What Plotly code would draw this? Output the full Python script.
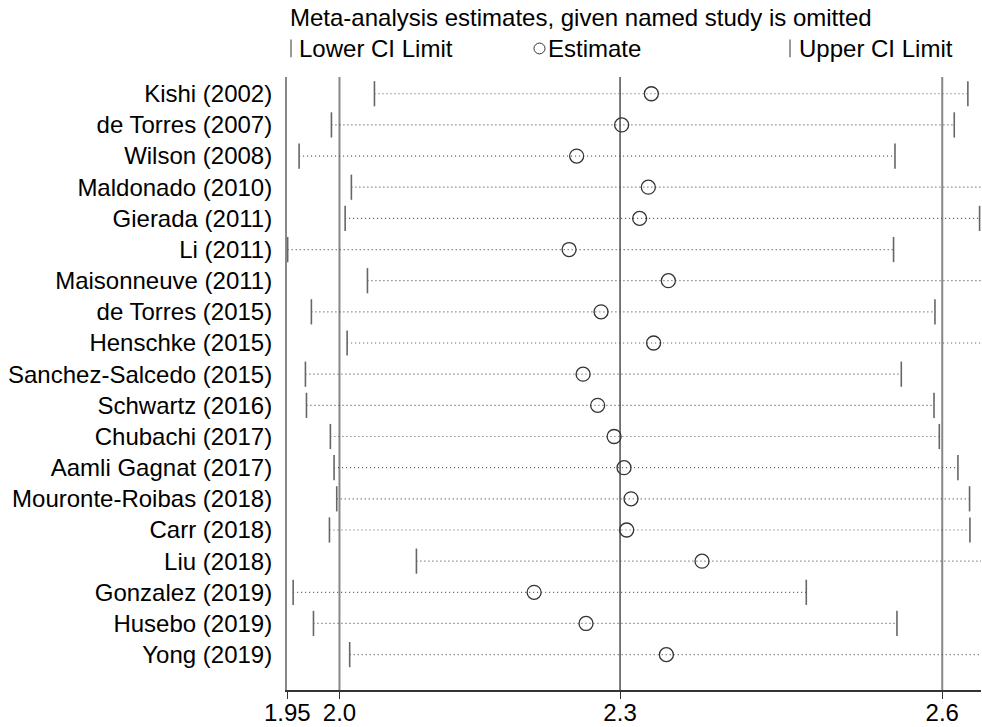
import plotly.graph_objects as go

studies = ["Kishi (2002)", "de Torres (2007)", "Wilson (2008)", "Maldonado (2010)",
           "Gierada (2011)", "Li (2011)", "Maisonneuve (2011)", "de Torres (2015)",
           "Henschke (2015)", "Sanchez-Salcedo (2015)", "Schwartz (2016)",
           "Chubachi (2017)", "Aamli Gagnat (2017)", "Mouronte-Roibas (2018)",
           "Carr (2018)", "Liu (2018)", "Gonzalez (2019)", "Husebo (2019)", "Yong (2019)"]
lower = [2.0402, 1.9947, 1.9605, 2.0158, 2.0092, 1.9484, 2.0328, 1.9735, 2.0113, 1.9672,
         1.9683, 1.9936, 1.9975, 2.0003, 1.9926, 2.0846, 1.9542, 1.9757, 2.0140]
estimate = [2.3331, 2.3017, 2.2541, 2.3299, 2.3207, 2.2461, 2.3511, 2.2799, 2.3355, 2.2609,
            2.2763, 2.2937, 2.3042, 2.3116, 2.3070, 2.3867, 2.2091, 2.2640, 2.3490]
upper = [2.6679, 2.6535, 2.5908, 2.693, 2.6803, 2.5893, 2.719, 2.6331, 2.712, 2.5975,
         2.6321, 2.6377, 2.6574, 2.6697, 2.6701, 2.733, 2.4970, 2.5929, 2.740]
overall = [2.0032, 2.3000, 2.6408]          # overall lower CI, estimate, upper CI
tick_vals = [1.9480, 2.0032, 2.3000, 2.6408]
tick_text = ["1.95", "2.0", "2.3", "2.6"]

W, H = 982, 727
L, R, T, B = 287, 1, 77, 27
FONT = "Liberation Sans, Arial, sans-serif"
FS = 24
rows = list(range(1, len(studies) + 1))

fig = go.Figure()
lx, ly = [], []
for r, lo, hi in zip(rows, lower, upper):
    lx += [lo, hi, None]
    ly += [r, r, None]
fig.add_trace(go.Scatter(x=lx, y=ly, mode="lines",
                         line=dict(color="#555555", width=1.2, dash="1px,3px"),
                         hoverinfo="skip", showlegend=False))
fig.add_trace(go.Scatter(x=lower + upper, y=rows + rows, mode="markers",
                         marker=dict(symbol="line-ns", size=18,
                                     line=dict(color="#666666", width=1.6)),
                         showlegend=False))
fig.add_trace(go.Scatter(x=estimate, y=rows, mode="markers",
                         marker=dict(symbol="circle-open", size=14, color="#333333",
                                     line=dict(color="#333333", width=1.3)),
                         showlegend=False))

pw, ph = W - L - R, H - T - B
def px(x):
    return (x - L) / pw
def py(y):
    return (H - B - y) / ph

for v, c, w in zip(overall, ["#888888", "#333333", "#888888"], [2, 1.3, 2]):
    fig.add_shape(type="line", xref="x", yref="paper", x0=v, x1=v, y0=0, y1=1,
                  line=dict(color=c, width=w), layer="below")

fig.add_annotation(xref="paper", yref="paper", x=px(288), y=py(17), xanchor="left",
                   yanchor="middle", showarrow=False,
                   text="Meta-analysis estimates, given named study is omitted",
                   font=dict(family=FONT, size=FS, color="#000"))
for xt, txt in [(297, "Lower CI Limit"), (546, "Estimate"), (797, "Upper CI Limit")]:
    fig.add_annotation(xref="paper", yref="paper", x=px(xt), y=py(48), xanchor="left",
                       yanchor="middle", showarrow=False, text=txt,
                       font=dict(family=FONT, size=FS, color="#000"))
for xb in [291, 790]:
    fig.add_shape(type="line", xref="paper", yref="paper", x0=px(xb), x1=px(xb),
                  y0=py(39), y1=py(57), line=dict(color="#777777", width=1.5))
fig.add_shape(type="circle", xref="paper", yref="paper", x0=px(534), x1=px(545),
              y0=py(42.5), y1=py(53.5), line=dict(color="#333333", width=1))

fig.update_layout(
    width=W, height=H, margin=dict(l=L, r=R, t=T, b=B),
    plot_bgcolor="white", paper_bgcolor="white",
    font=dict(family=FONT, size=FS, color="#000"),
    xaxis=dict(range=[1.9477, 2.6818], tickvals=tick_vals, ticktext=tick_text,
               showgrid=False, zeroline=False, showline=True, linecolor="#333333",
               linewidth=1.5, ticks="outside", ticklen=7, tickcolor="#333333",
               tickwidth=1.3, tickfont=dict(size=FS), ticklabelstandoff=-7),
    yaxis=dict(range=[20.135, 0.4632], tickvals=rows, ticktext=studies,
               showgrid=False, zeroline=False, showline=True, linecolor="#888888",
               linewidth=2, ticks="", tickfont=dict(size=FS), ticklabelstandoff=8),
)

fig.write_html("out.html")
